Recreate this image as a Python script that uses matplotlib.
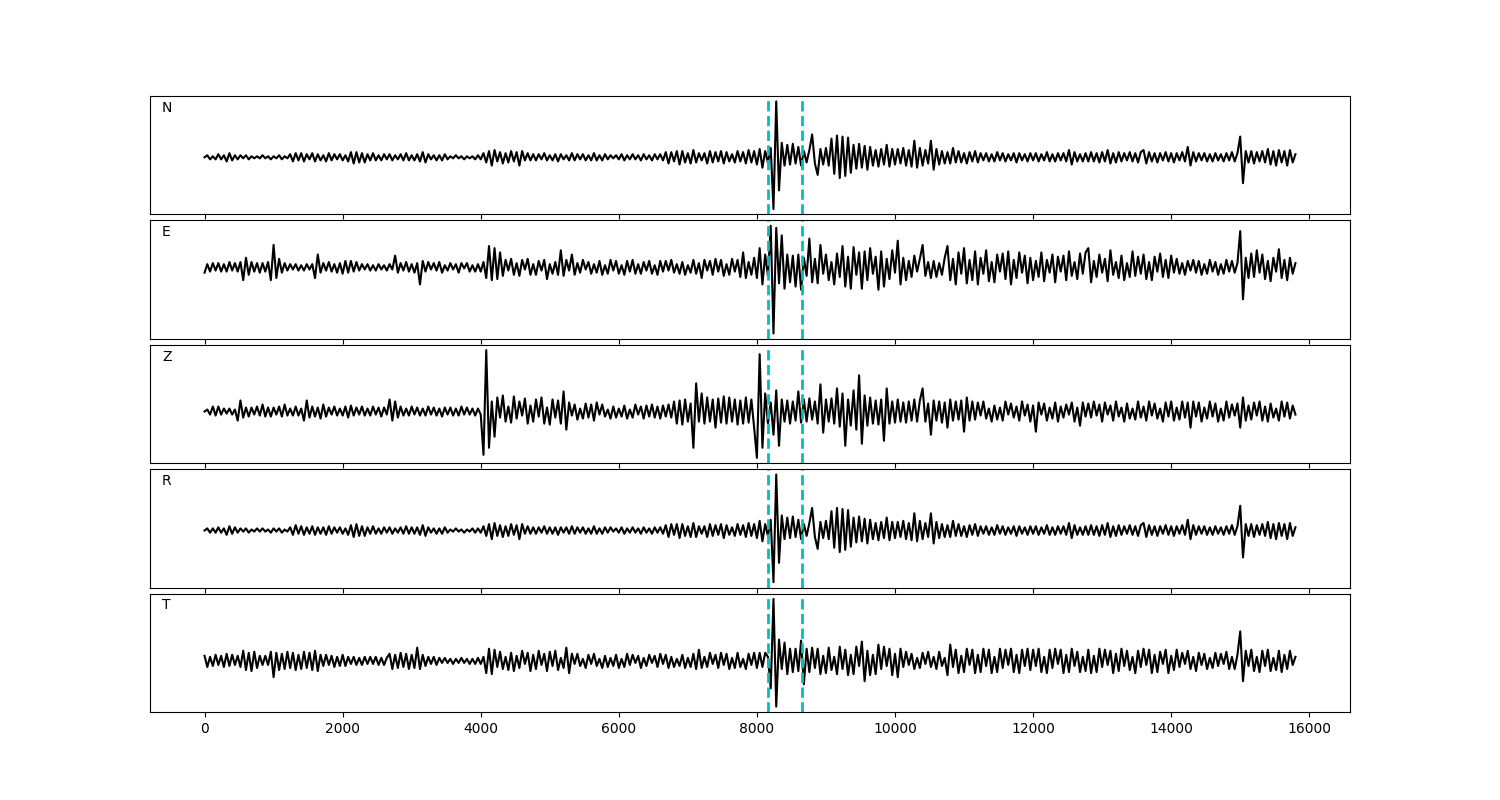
import numpy as np
import matplotlib
matplotlib.use("Agg")
import matplotlib.pyplot as plt

# sampling step of the listed values (samples)
dt = 40
picks = [8155, 8650]
channels = ["N", "E", "Z", "R", "T"]

trace_n = [
    0, 2, -2, 1, -2, 3, -2, 2, -4, 4, -3, 2, -2, 2, -1, 2, -2, 1, -1, 1,
    -1, 2, -1, 1, -2, 1, -1, 2, -2, 1, -1, 3, -4, 4, -3, 4, -4, 3, -2, 4,
    -4, 3, -3, 2, -4, 4, -3, 3, -2, 3, -3, 2, -4, 5, -6, 5, -5, 4, -5, 3,
    -3, 4, -3, 2, -3, 3, -2, 3, -3, 2, -2, 3, -3, 4, -3, 2, -3, 3, -4, 5,
    -5, 3, -2, 2, -3, 2, -3, 3, -2, 1, -1, 2, -1, 1, -2, 1, -1, 1, -2, 2,
    -2, 4, -5, 6, -8, 7, -4, 5, -6, 4, -5, 6, -4, 5, -8, 6, -3, 4, -3, 3,
    -3, 3, -2, 4, -3, 2, -3, 3, -4, 3, -2, 2, -3, 4, -3, 3, -2, 3, -3, 2,
    -3, 4, -3, 2, -3, 3, -2, 2, -1, 2, -2, 3, -3, 2, -2, 3, -2, 2, -3, 3,
    -2, 2, -3, 3, -2, 3, -3, 5, -6, 5, -4, 6, -7, 6, -5, 4, -6, 7, -5, 4,
    -3, 4, -6, 6, -5, 5, -4, 6, -6, 5, -4, 3, -5, 6, -4, 5, -6, 7, -5, 6,
    -7, 8, -10, 6, -5, 9, -50, 54, -32, 14, -8, 12, -7, 13, -6, 10, -8, 6, -5, 7,
    22, -6, -17, 8, -7, 9, -8, 18, -16, 21, -20, 20, -18, 19, -15, 12, -11, 13, -10, 11,
    -12, 10, -8, 7, -9, 8, -7, 12, -9, 8, -7, 8, -6, 9, -8, 7, -9, 16, -10, 9,
    -8, 7, -6, 16, -12, 8, -7, 6, -6, 5, -6, 9, -5, 6, -5, 4, -6, 5, -4, 6,
    -5, 4, -3, 4, -4, 3, -4, 5, -3, 4, -4, 3, -3, 4, -5, 4, -3, 3, -4, 4,
    -3, 4, -4, 3, -3, 5, -4, 3, -4, 4, -3, 4, -4, 7, -7, 5, -4, 3, -4, 4,
    -4, 5, -4, 4, -5, 5, -4, 7, -6, 4, -5, 5, -4, 4, -3, 5, -4, 4, -5, 5,
    7, -6, 5, -4, 4, -5, 4, -3, 5, -4, 4, -5, 4, -3, 5, -4, 10, -8, 5, -4,
    4, -3, 4, -4, 3, -4, 4, -3, 3, -4, 4, -3, 5, -4, 4, 20, -25, 6, -5, 6,
    -6, 5, -4, 6, -5, 8, -7, 6, -8, 7, -5, 6, -8, 7, -5, 3,
]

trace_e = [
    -5, 3, -4, 4, -3, 4, -4, 3, -4, 5, -3, 4, -4, 5, -12, 9, -7, 5, -4, 4,
    -5, 4, -4, 5, -12, 21, -10, 8, -5, 4, -3, 3, -2, 3, -3, 2, -3, 3, -2, 3,
    -10, 12, -5, 4, -3, 5, -4, 3, -5, 4, -6, 6, -5, 6, -4, 5, -3, 3, -2, 3,
    -3, 2, -3, 3, -2, 2, -3, 3, -2, 11, -5, 4, -3, 5, -4, 3, -5, 4, -16, 6,
    -4, 5, -2, 4, -3, 5, -5, 2, -3, 4, -2, 3, -5, 4, -1, 4, -4, 2, -4, 3,
    -4, 5, -10, 20, -12, 18, -11, 14, -8, 7, -3, 8, -7, 4, -8, 7, -2, 8, -7, 3,
    -7, 6, -3, 7, -11, 3, -6, 5, -7, 16, -8, 7, -3, 12, -7, 4, -5, 7, -2, 5,
    -6, 3, -5, 6, -7, 2, -6, 7, -3, 6, -6, 2, -7, 6, -4, 7, -6, 3, -6, 5,
    -3, 6, -6, 2, -7, 6, -4, 6, -3, 7, -5, 3, -6, 5, -7, 2, -5, 7, -6, 4,
    -10, 7, -3, 6, -7, 8, -4, 7, -8, 3, -7, 8, -4, 7, -9, 14, -10, 5, -7, 9,
    -10, 18, -16, 12, -8, 39, -62, 37, -15, 30, -20, 12, -14, 11, -18, 12, -21, 9, -8, 27,
    -14, 8, -15, 21, -6, 12, -12, 5, -16, 13, -9, 20, -18, 10, -20, 19, -7, 14, -20, 15,
    -12, 18, -6, 10, -21, 15, -18, 8, -11, 16, -5, 25, -16, 9, -12, 6, -9, 11, -4, 8,
    21, -8, 5, -10, 6, -9, 4, -7, 9, 20, -12, 8, -16, 14, -6, 18, -15, 7, -12, 15,
    -16, 9, -6, 16, -13, 5, -14, 12, -4, 13, -11, 15, -16, 7, -10, 14, -5, 11, -15, 9,
    -12, 6, -9, 14, -13, 7, -5, 12, -14, 10, -4, 11, -12, 15, -8, 5, -11, 13, -6, 14,
    18, -14, 6, -9, 12, -5, 8, -13, 16, -7, 5, -10, 11, -12, 4, -9, 15, -8, 10, -6,
    12, -11, 5, -12, 10, -4, 13, -9, 7, -10, 11, -5, 8, -6, 4, -7, 6, -3, 7, -5,
    6, -7, 3, -6, 7, -4, 5, -7, 3, -6, 7, -4, 6, -5, 4, 34, -30, 9, -10, 13,
    -9, 16, -5, 12, -11, 6, -13, 9, -4, 17, -10, 7, -12, 9, -6, 4,
]

trace_z = [
    0, 2, -3, 5, -4, 5, -3, 3, -2, 3, -3, 2, -9, 11, -6, 4, -5, 4, -3, 5,
    -4, 7, -5, 4, -5, 4, -3, 5, -5, 7, -4, 3, -4, 5, -4, 3, -9, 11, -6, 5,
    -5, 4, -7, 7, -5, 4, -3, 5, -4, 3, -4, 5, -6, 6, -4, 4, -3, 5, -4, 3,
    -4, 5, -3, 4, -5, 4, -3, 12, -9, 10, -6, 5, -4, 3, -4, 5, -3, 4, -4, 3,
    -4, 5, -3, 4, -4, 3, -5, 4, -3, 4, -4, 3, -4, 5, -3, 4, -3, 3, -4, 3,
    -3, -43, 61, -36, 10, -25, 14, -6, 16, -10, 5, -11, 15, -7, 10, -4, 13, -12, 6, -10,
    12, -5, 14, -12, 4, -13, 12, -6, 11, -12, 20, -18, 9, -4, 7, -8, 3, -7, 8, -6,
    7, -9, 9, -3, 7, -5, 2, -7, 5, -6, 3, -5, 6, -7, 2, -6, 7, -3, 5, -7,
    6, -5, 7, -6, 5, -7, 6, -5, 7, -6, 10, -12, 11, -13, 12, -10, 8, -36, 28, -10,
    18, -12, 14, -10, 12, -16, 13, -11, 15, -12, 14, -10, 12, -13, 11, -12, 14, -11, 12, -16,
    -46, 57, -36, 18, -12, 9, -23, 21, -34, 12, -10, 11, -12, 10, -9, 20, -11, 12, -10, 13,
    -8, 10, -12, 27, -21, 12, -10, 13, -12, 23, -15, 18, -34, 12, -14, 21, -18, 36, -32, 16,
    -14, 14, -12, 11, -13, 12, -29, 23, -12, 10, -11, 12, -10, 9, -11, 10, -9, 12, -10, 11,
    23, -10, 8, -23, 11, -9, 10, -11, 9, -16, 12, -9, 10, -8, 11, -20, 14, -9, 10, -8,
    9, -4, 10, -7, 3, -10, 6, -8, 4, -9, 10, -3, 8, -6, 5, -9, 10, -4, 7, -10,
    6, -20, 9, -3, 8, -9, 4, -7, 9, -10, 5, -6, 7, -3, 9, -10, 4, -14, 9, -5,
    8, -6, 10, -4, 7, -10, 9, -3, 6, -9, 10, -5, 4, -10, 8, -7, 3, -8, 10, -6,
    5, -9, 10, -4, 8, -7, 3, -10, 9, -5, 10, -9, 4, -8, 10, -6, 9, -16, 10, -5,
    9, -10, 4, -7, 10, -5, 8, -10, 3, -9, 10, -6, 7, -4, 8, -16, 14, -9, 6, -8,
    9, -4, 10, -9, 5, -10, 8, -6, 3, -9, 10, -5, 9, -7, 6, -3,
]

trace_r = [
    0, 2, -2, 2, -2, 3, -2, 2, -4, 4, -3, 3, -2, 2, -1, 2, -2, 1, -1, 2,
    -1, 2, -1, 1, -2, 2, -1, 2, -2, 1, -1, 3, -4, 5, -3, 4, -4, 3, -3, 4,
    -4, 3, -3, 3, -4, 4, -3, 3, -2, 3, -3, 2, -4, 5, -6, 6, -5, 4, -5, 3,
    -3, 4, -3, 2, -3, 3, -2, 3, -3, 2, -2, 3, -3, 4, -3, 3, -3, 3, -4, 5,
    -5, 3, -2, 2, -3, 2, -3, 3, -2, 1, -1, 2, -1, 1, -2, 1, -1, 2, -2, 2,
    -2, 4, -5, 6, -8, 7, -5, 5, -6, 4, -5, 6, -4, 5, -8, 6, -3, 4, -3, 3,
    -3, 3, -2, 4, -3, 3, -3, 3, -4, 3, -2, 3, -3, 4, -3, 3, -2, 3, -3, 2,
    -3, 4, -3, 2, -3, 3, -2, 3, -1, 2, -2, 3, -3, 2, -2, 3, -2, 2, -3, 3,
    -2, 2, -3, 3, -2, 3, -3, 5, -6, 6, -4, 6, -7, 6, -5, 4, -6, 7, -6, 4,
    -3, 4, -6, 6, -5, 5, -4, 6, -7, 5, -4, 3, -5, 6, -4, 5, -6, 7, -5, 6,
    -7, 9, -10, 6, -5, 10, -48, 52, -30, 14, -8, 12, -7, 13, -6, 10, -8, 6, -5, 7,
    21, -6, -17, 8, -7, 9, -8, 18, -16, 21, -20, 20, -18, 19, -15, 12, -11, 13, -10, 11,
    -12, 10, -8, 7, -9, 8, -7, 12, -9, 8, -7, 8, -6, 9, -8, 7, -9, 16, -10, 9,
    -8, 7, -6, 16, -12, 8, -7, 6, -6, 5, -6, 9, -5, 6, -5, 4, -6, 5, -4, 6,
    -5, 4, -3, 4, -4, 3, -4, 5, -3, 4, -4, 3, -3, 4, -5, 4, -3, 3, -4, 4,
    -3, 4, -4, 3, -3, 5, -4, 3, -4, 4, -3, 4, -4, 7, -7, 5, -4, 3, -4, 4,
    -4, 5, -4, 4, -5, 5, -4, 7, -6, 4, -5, 5, -4, 4, -3, 5, -4, 4, -5, 5,
    7, -6, 5, -4, 4, -5, 4, -3, 5, -4, 4, -5, 4, -3, 5, -4, 10, -8, 5, -4,
    4, -3, 4, -4, 3, -4, 4, -3, 3, -4, 4, -3, 5, -4, 4, 23, -25, 6, -5, 6,
    -6, 5, -4, 6, -5, 8, -7, 6, -8, 7, -5, 6, -8, 7, -5, 3,
]

trace_t = [
    5, -6, 4, -5, 6, -4, 5, -6, 7, -5, 6, -4, 5, -6, 10, -9, 8, -10, 9, -7,
    5, -4, 5, -4, 9, -16, 8, -9, 7, -8, 9, -7, 8, -9, 6, -8, 9, -7, 8, -9,
    10, -10, 6, -5, 6, -4, 5, -6, 4, -5, 6, -5, 4, -3, 4, -4, 3, -4, 4, -3,
    4, -3, 4, -4, 3, -4, 3, 7, -8, 6, -7, 8, -6, 7, -8, 6, -7, 13, -8, 6,
    -5, 4, -3, 4, -4, 3, -2, 3, -2, 2, -3, 2, -2, 3, -2, 2, -3, 2, -3, 3,
    -3, 4, -12, 12, -13, 11, -6, 9, -8, 4, -9, 8, -10, 5, -7, 10, -3, 8, -10, 6,
    -8, 10, -4, 7, -10, 9, -5, 10, -9, 3, -7, 13, -12, 7, -3, 7, -5, 2, -7, 6,
    -3, 7, -5, 2, -7, 5, -6, 3, -5, 6, -7, 2, -6, 7, -4, 6, -2, 5, -7, 3,
    -5, 6, -2, 5, -6, 7, -3, 6, -7, 4, -6, 2, -5, 6, -7, 3, -6, 7, -8, 11,
    -7, 4, -6, 8, -3, 6, -7, 8, -4, 7, -8, 3, -7, 8, -6, 2, -8, 7, -4, 8,
    -7, 8, -6, 8, 4, -27, 61, -45, 21, -8, 18, -13, 12, -11, 12, -10, 20, -23, 12, -11,
    13, -7, 12, -13, 5, -12, 13, -9, 4, -13, 14, -8, 11, -14, 6, -13, 14, -5, 19, -20,
    10, -14, 6, -13, 16, -8, 14, -5, 12, -14, 7, -16, 12, -6, 9, -4, 7, -8, 3, -7,
    8, -3, 9, -6, 4, -8, 9, -5, 3, -14, 16, -6, 11, -12, 5, -11, 12, -4, 11, -12,
    6, -11, 12, -5, 11, -12, 4, -11, 12, -7, 11, -4, 12, -11, 6, -12, 11, -5, 12, -9,
    11, -5, 12, -11, 4, -12, 11, -7, 12, -3, 11, -12, 6, -11, 12, -5, 9, -11, 4, -10,
    11, -12, 5, -11, 12, -6, 11, -4, 10, -12, 7, -10, 12, -5, 10, -9, 4, -12, 10, -6,
    12, -4, 11, -12, 6, -11, 9, -3, 11, -12, 5, -9, 11, -6, 8, -3, 10, -8, 4, -10,
    8, -4, 7, -8, 3, -7, 8, -5, 7, -3, 9, -8, 4, -8, 6, 29, -20, 10, -5, 11,
    -10, 4, -11, 10, -5, 11, -10, 3, -9, 10, -11, 6, -8, 10, -4, 4,
]

traces = [trace_n, trace_e, trace_z, trace_r, trace_t]

fig, axes = plt.subplots(5, 1, sharex=True, figsize=(15, 8))
fig.subplots_adjust(left=0.1, right=0.9, top=0.88, bottom=0.11, hspace=0.05)

for ax, name, tr in zip(axes, channels, traces):
    t = np.arange(len(tr)) * dt
    ax.plot(t, tr, color="k", lw=1.5)
    for p in picks:
        ax.axvline(p, color="c", ls="--", lw=2)
    ax.set_yticks([])
    ax.text(0.01, 0.9, name, transform=ax.transAxes, va="center", ha="left")

fig.savefig("out.png", dpi=100)
